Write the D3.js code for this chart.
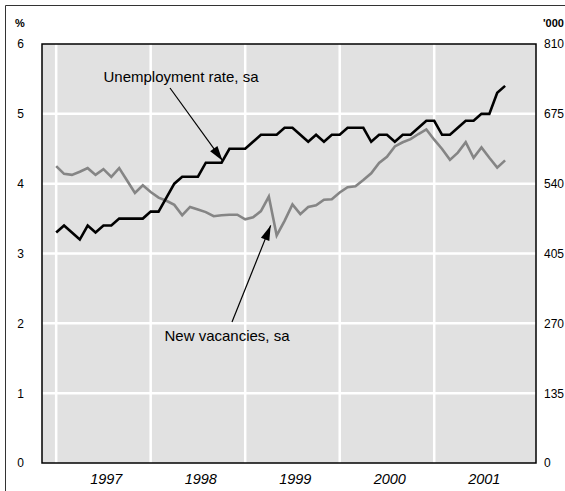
<!DOCTYPE html>
<html><head><meta charset="utf-8">
<script src="https://cdn.jsdelivr.net/npm/d3@7"></script>
<style>body{margin:0;background:#fff}svg{display:block;font-family:"Liberation Sans",Arial,sans-serif}</style>
</head><body>
<script>
// Monthly data Jan 1997 - Oct 2001
const startYear = 1997;
const unemployment = [3.3,3.4,3.3,3.2,3.4,3.3,3.4,3.4,3.5,3.5,3.5,3.5,
  3.6,3.6,3.8,4.0,4.1,4.1,4.1,4.3,4.3,4.3,4.5,4.5,
  4.5,4.6,4.7,4.7,4.7,4.8,4.8,4.7,4.6,4.7,4.6,4.7,
  4.7,4.8,4.8,4.8,4.6,4.7,4.7,4.6,4.7,4.7,4.8,4.9,
  4.9,4.7,4.7,4.8,4.9,4.9,5.0,5.0,5.3,5.4];
const vacancies = [574,559,557,563,570,557,568,553,570,546,522,537,
  524,513,507,499,479,495,490,485,477,479,480,480,
  471,475,487,515,440,468,500,481,495,498,509,510,
  523,533,535,547,560,580,592,612,620,626,636,645,
  625,607,586,600,620,590,610,590,571,585];
const leftTicks = [0,1,2,3,4,5,6];
const rightTicks = [0,135,270,405,540,675,810];
const yearLabels = ["1997","1998","1999","2000","2001"];
const gridYears = [1997,1998,1999,2000,2001];

const W = 565, H = 491;
const plot = {l:42, r:536, t:44, b:463};
const svg = d3.select("body").append("svg").attr("width",W).attr("height",H);

// outer frame
svg.append("path").attr("d",`M5.5,${H+5}V5.5H${W+5}`).attr("fill","none").attr("stroke","#333").attr("stroke-width",1);

const x = d3.scaleLinear().domain([1996.85, 2002.077]).range([plot.l, plot.r]);
const yL = d3.scaleLinear().domain([0,6]).range([plot.b, plot.t]);
const yR = d3.scaleLinear().domain([0,810]).range([plot.b, plot.t]);

svg.append("rect").attr("x",plot.l).attr("y",plot.t).attr("width",plot.r-plot.l).attr("height",plot.b-plot.t).attr("fill","#e1e1e1");

// grid
svg.append("g").selectAll("line").data(leftTicks.slice(1,-1)).join("line")
  .attr("x1",plot.l).attr("x2",plot.r).attr("y1",d=>yL(d)).attr("y2",d=>yL(d))
  .attr("stroke","#fff").attr("stroke-width",2.5);
svg.append("g").selectAll("line").data(gridYears).join("line")
  .attr("y1",plot.t).attr("y2",plot.b).attr("x1",d=>x(d)).attr("x2",d=>x(d))
  .attr("stroke","#fff").attr("stroke-width",2.5);

const t = i => x(startYear + i/12);
const lineU = d3.line().x((d,i)=>t(i)).y(d=>yL(d));
const lineV = d3.line().x((d,i)=>t(i)).y(d=>yR(d));
svg.append("path").datum(vacancies).attr("d",lineV).attr("fill","none").attr("stroke","#858585").attr("stroke-width",2.6).attr("stroke-linejoin","miter");
svg.append("path").datum(unemployment).attr("d",lineU).attr("fill","none").attr("stroke","#000").attr("stroke-width",2.6).attr("stroke-linejoin","miter");

// border
svg.append("rect").attr("x",plot.l).attr("y",plot.t).attr("width",plot.r-plot.l).attr("height",plot.b-plot.t).attr("fill","none").attr("stroke","#000").attr("stroke-width",1.5);

// axes labels
const axL = d3.axisLeft(yL).tickValues(leftTicks).tickFormat(d3.format("d")).tickSize(0).tickPadding(0);
const gL = svg.append("g").attr("transform","translate(24,0)").call(axL);
const axR = d3.axisRight(yR).tickValues(rightTicks).tickFormat(d3.format("d")).tickSize(0).tickPadding(0);
const gR = svg.append("g").attr("transform","translate(544,0)").call(axR);
[gL,gR].forEach(g=>{g.select(".domain").remove();g.selectAll("text").attr("font-size",12).attr("font-family","Liberation Sans, Arial, sans-serif").attr("fill","#000");});

svg.append("g").selectAll("text").data(yearLabels).join("text")
  .attr("x",d=>x(+d+0.53)).attr("y",484).attr("text-anchor","middle")
  .attr("font-size",14.5).attr("font-style","italic").text(d=>d);

svg.append("text").attr("x",15).attr("y",27).attr("font-size",11).attr("font-weight","bold").text("%");
svg.append("text").attr("x",543).attr("y",27).attr("font-size",11).attr("font-weight","bold").text("'000");

// annotations
function arrow(x1,y1,x2,y2){
  svg.append("line").attr("x1",x1).attr("y1",y1).attr("x2",x2).attr("y2",y2).attr("stroke","#000").attr("stroke-width",1.2);
  const a = Math.atan2(y2-y1,x2-x1), L=15, w=4.5;
  const bx = x2-L*Math.cos(a), by = y2-L*Math.sin(a);
  const px = -Math.sin(a)*w, py = Math.cos(a)*w;
  svg.append("path").attr("d",`M${x2},${y2}L${bx+px},${by+py}L${bx-px},${by-py}Z`).attr("fill","#000");
}
svg.append("text").attr("x",181).attr("y",82).attr("text-anchor","middle").attr("font-size",15).text("Unemployment rate, sa");
arrow(170, 88, t(21)+1, yL(4.3)-2);
svg.append("text").attr("x",227).attr("y",341).attr("text-anchor","middle").attr("font-size",15).text("New vacancies, sa");
arrow(232, 322, t(28)-6, yR(440)-10);
</script>
</body></html>
